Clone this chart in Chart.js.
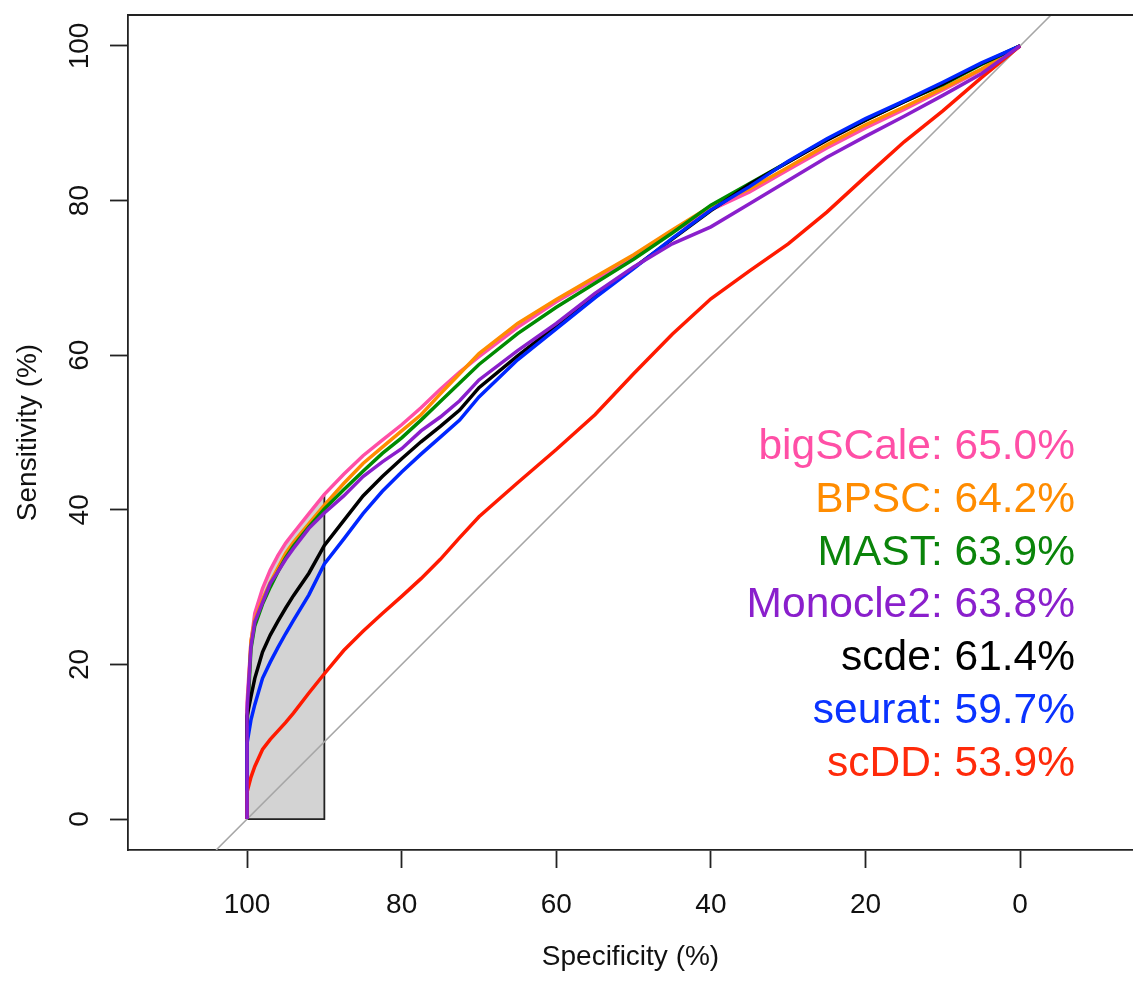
<!DOCTYPE html>
<html>
<head>
<meta charset="utf-8">
<script src="https://cdn.jsdelivr.net/npm/chart.js@4.4.1/dist/chart.umd.min.js"></script>
<style>
  html, body { margin: 0; padding: 0; background: #fff; overflow: hidden; }
  #wrap { width: 1133px; height: 982px; position: relative; }
</style>
</head>
<body>
<div id="wrap"><canvas id="c" width="1133" height="982"></canvas></div>
<script>
// ---------------- DATA ----------------
const methods = ['bigSCale', 'BPSC', 'MAST', 'Monocle2', 'scde', 'seurat', 'scDD'];
const aucLabels = ['65.0%', '64.2%', '63.9%', '63.8%', '61.4%', '59.7%', '53.9%'];

// specificity grid (%), shared by all curves
const specGrid = [100, 100, 99.5, 99, 98, 97, 96, 95, 94, 92, 90, 87.5, 85, 82.5, 80, 77.5, 75, 72.5, 70,
                  65, 60, 55, 50, 45, 40, 35, 30, 25, 20, 15, 10, 5, 0];

// sensitivity (%) for each method
const bigSCaleSens = [0, 15, 22.8, 26.6, 29.8, 32.2, 34.1, 35.7, 37.0, 39.5, 42.0, 44.6, 47.0, 49.0, 51.0, 53.2, 55.6, 57.8, 59.8,
                      63.6, 66.9, 69.8, 72.8, 75.9, 78.8, 81.1, 84.0, 86.8, 89.4, 91.8, 94.3, 96.9, 100];
const bpscSens     = [0, 13, 23.0, 25.8, 28.4, 30.6, 32.5, 34.4, 35.8, 38.2, 40.6, 43.4, 46.0, 48.1, 50.2, 52.3, 55.0, 57.6, 60.2,
                      64.1, 67.2, 70.1, 73.0, 76.2, 79.3, 81.5, 84.3, 87.2, 89.8, 92.1, 94.5, 97.0, 100];
const mastSens     = [0, 12, 22.0, 25.0, 27.8, 30.0, 32.0, 33.8, 35.3, 37.8, 40.1, 42.6, 45.0, 47.3, 49.3, 51.6, 54.0, 56.4, 58.8,
                      62.8, 66.2, 69.3, 72.4, 75.8, 79.4, 82.2, 85.0, 87.9, 90.4, 92.8, 95.0, 97.6, 100];
const monocle2Sens = [0, 14, 22.3, 25.5, 28.0, 30.5, 32.0, 33.6, 35.0, 37.6, 39.6, 41.8, 44.3, 46.2, 47.9, 50.2, 52.0, 54.1, 56.8,
                      60.6, 64.1, 68.0, 71.4, 74.4, 76.6, 79.6, 82.6, 85.6, 88.3, 90.9, 93.6, 96.4, 100];
const scdeSens     = [0, 13.3, 15.8, 18.2, 21.6, 23.8, 25.6, 27.3, 28.9, 31.8, 35.4, 38.6, 41.8, 44.3, 46.6, 48.8, 50.8, 52.9, 55.8,
                      59.9, 63.8, 67.8, 71.3, 75.0, 78.7, 82.1, 85.0, 87.8, 90.4, 92.8, 95.1, 97.7, 100];
const seuratSens   = [0, 9.8, 12.8, 14.8, 18.2, 20.3, 22.2, 24.0, 25.7, 29.0, 33.0, 36.2, 39.5, 42.4, 44.9, 47.2, 49.4, 51.6, 54.6,
                      59.4, 63.4, 67.4, 71.2, 75.1, 78.8, 81.8, 85.1, 88.0, 90.6, 92.9, 95.3, 97.8, 100];
const scddSens     = [0, 3.5, 5.4, 6.8, 9.0, 10.3, 11.4, 12.5, 13.7, 16.3, 18.8, 21.8, 24.3, 26.6, 28.8, 31.1, 33.6, 36.4, 39.1,
                      43.5, 47.8, 52.3, 57.6, 62.7, 67.3, 70.9, 74.4, 78.5, 83.1, 87.6, 91.6, 95.9, 100];

const sensByMethod = [bigSCaleSens, bpscSens, mastSens, monocle2Sens, scdeSens, seuratSens, scddSens];

// axis ticks and limits
const xTickValues = [100, 80, 60, 40, 20, 0];
const yTickValues = [0, 20, 40, 60, 80, 100];
const partialSpecRange = [100, 90];   // shaded partial-AUC region (specificity)

// ---------------- STYLE ----------------
const lineColors = ['#ff4fa6', '#ff8c00', '#008b00', '#8a1fcc', '#000000', '#0026ff', '#ff1a00'];
const textColors = ['#ff4fa6', '#ff8c00', '#0a840a', '#8a1fcc', '#000000', '#0a33ff', '#ff2a0a'];
const drawOrder  = [7, 6, 5, 1, 4, 3, 2]; // lower = on top
const FONT = '"Liberation Sans", Arial, Helvetica, sans-serif';

const X_MIN = -14.6, X_MAX = 115.4, Y_MIN = -4, Y_MAX = 104;

// ---------------- BUILD ----------------
const toPts = (xs, ys) => xs.map((x, i) => ({x: x, y: ys[i]}));

const curveDatasets = methods.map((m, k) => ({
  label: m,
  data: toPts(specGrid, sensByMethod[k]),
  showLine: true,
  borderColor: lineColors[k],
  borderWidth: 3.5,
  pointRadius: 0,
  tension: 0,
  fill: false,
  order: drawOrder[k]
}));

// shaded polygon under bigSCale between spec 100 and 90
const shadeIdx = specGrid.map((s, i) => i).filter(i => specGrid[i] <= partialSpecRange[0] && specGrid[i] >= partialSpecRange[1]);
const shadePts = shadeIdx.map(i => ({x: specGrid[i], y: bigSCaleSens[i]}));
const lastShade = shadePts[shadePts.length - 1];
shadePts.push({x: partialSpecRange[1], y: 0});

const shadeDataset = {
  label: 'pAUC', data: shadePts, showLine: true, pointRadius: 0,
  borderWidth: 0, borderColor: 'rgba(0,0,0,0)', backgroundColor: '#d3d3d3',
  fill: 'origin', tension: 0, order: 100
};
const shadeOutline = {
  label: 'pAUC border',
  data: [{x: lastShade.x, y: lastShade.y}, {x: partialSpecRange[1], y: 0}, {x: partialSpecRange[0], y: 0}],
  showLine: true, pointRadius: 0, borderWidth: 1.8, borderColor: '#222', fill: false, tension: 0, order: 99
};
// chance diagonal: sensitivity = 100 - specificity, spanning the y-axis limits
const diagDataset = {
  label: 'diag',
  data: [{x: 100 - Y_MIN, y: Y_MIN}, {x: 100 - Y_MAX, y: Y_MAX}],
  showLine: true, pointRadius: 0, borderWidth: 1.6, borderColor: '#a6a6a6', fill: false, tension: 0, order: 98
};

const framePlugin = {
  id: 'frame',
  afterDraw(chart) {
    const {ctx, chartArea} = chart;
    ctx.save();
    ctx.strokeStyle = '#222';
    ctx.lineWidth = 1.8;
    ctx.beginPath();
    ctx.moveTo(chartArea.left, chartArea.top);
    ctx.lineTo(chartArea.right + 2, chartArea.top);
    ctx.stroke();
    ctx.restore();
  }
};

const aucTextPlugin = {
  id: 'aucText',
  afterDatasetsDraw(chart) {
    const {ctx} = chart;
    const xs = chart.scales.x, ys = chart.scales.y;
    const xRight = xs.getPixelForValue(-7.1);
    ctx.save();
    ctx.font = '42.5px ' + FONT;
    ctx.textAlign = 'right';
    ctx.textBaseline = 'middle';
    methods.forEach((m, k) => {
      const yVal = 48.1 - k * 6.83;
      ctx.fillStyle = textColors[k];
      ctx.fillText(m + ': ' + aucLabels[k], xRight, ys.getPixelForValue(yVal));
    });
    ctx.restore();
  }
};

new Chart(document.getElementById('c'), {
  type: 'scatter',
  data: { datasets: [shadeDataset, shadeOutline, diagDataset, ...curveDatasets] },
  options: {
    responsive: false,
    animation: false,
    devicePixelRatio: 1,
    layout: { padding: { top: 15, right: 0, bottom: 0, left: 0 } },
    plugins: { legend: { display: false }, tooltip: { enabled: false } },
    scales: {
      x: {
        type: 'linear', reverse: true, min: X_MIN, max: X_MAX,
        afterBuildTicks: s => { s.ticks = xTickValues.map(v => ({value: v})); },
        afterFit: s => { s.height = 132; s.paddingLeft = 0; s.paddingRight = 0; },
        ticks: { font: { family: FONT, size: 28 }, color: '#111', padding: 20, maxRotation: 0, minRotation: 0 },
        grid: { display: true, drawOnChartArea: false, drawTicks: true, tickLength: 18, tickColor: '#222', tickWidth: 1.8 },
        border: { display: true, color: '#222', width: 1.8 },
        title: { display: true, text: 'Specificity (%)', font: { family: FONT, size: 28 }, color: '#111', padding: { top: 0, bottom: 8 } }
      },
      y: {
        type: 'linear', min: Y_MIN, max: Y_MAX,
        afterBuildTicks: s => { s.ticks = yTickValues.map(v => ({value: v})); },
        afterFit: s => { s.width = 128; s.paddingTop = 0; s.paddingBottom = 0; },
        ticks: { font: { family: FONT, size: 28 }, color: '#111', padding: 6, minRotation: 90, maxRotation: 90, crossAlign: 'center' },
        grid: { display: true, drawOnChartArea: false, drawTicks: true, tickLength: 18, tickColor: '#222', tickWidth: 1.8 },
        border: { display: true, color: '#222', width: 1.8 },
        title: { display: true, text: 'Sensitivity (%)', font: { family: FONT, size: 28 }, color: '#111', padding: { top: 11, bottom: 0 } }
      }
    }
  },
  plugins: [framePlugin, aucTextPlugin]
});
</script>
</body>
</html>
